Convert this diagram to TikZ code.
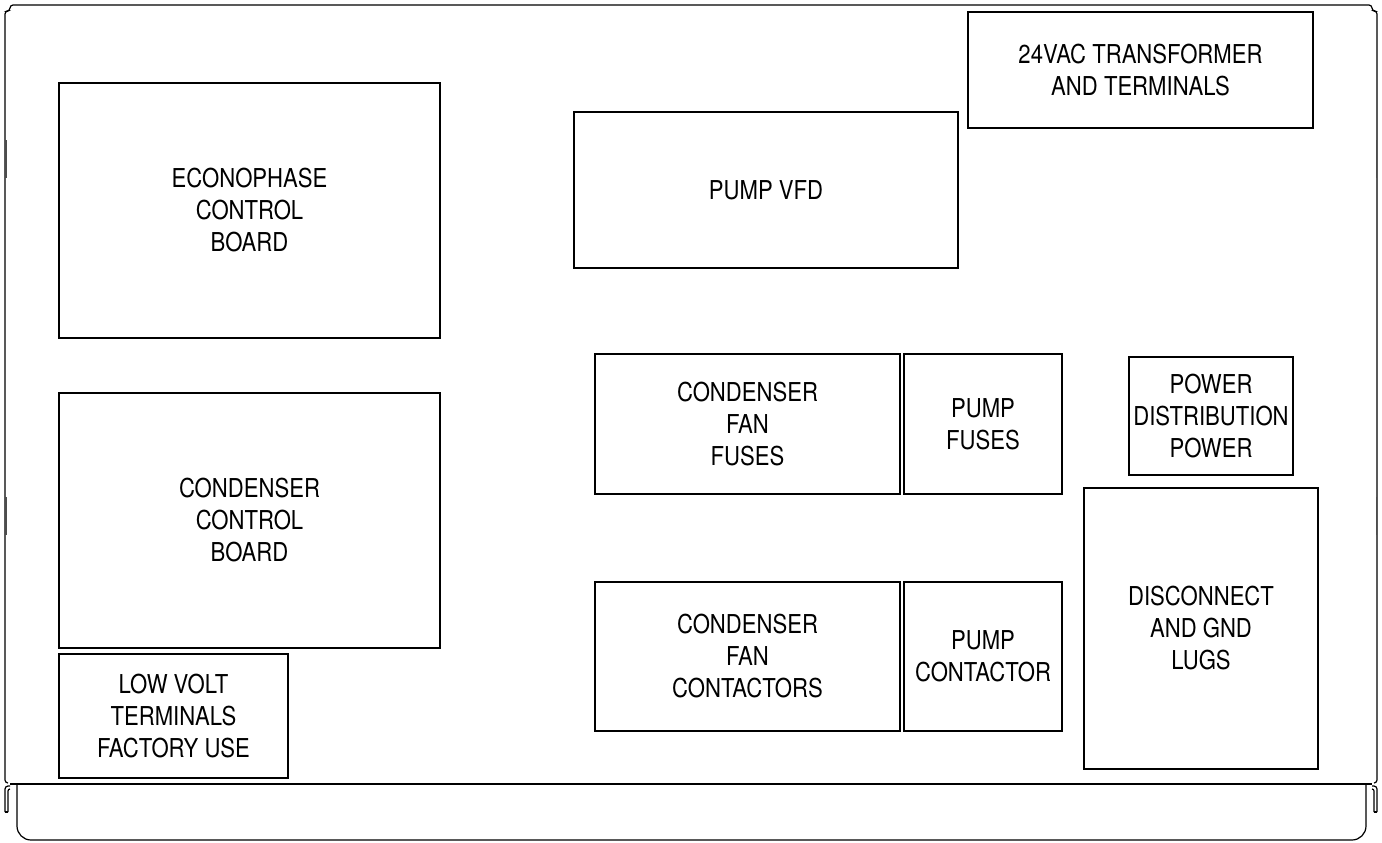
\documentclass[tikz,border=0pt]{standalone}
\usepackage{fontspec}
\setmainfont[FakeStretch=0.85]{TeX Gyre Heros}
\usepackage{tikz}
\tikzstyle{boxlabel} = [anchor=center, align=center, color=black, font=\fontsize{13}{16}\selectfont, inner sep=0pt]
\tikzstyle{panel} = [draw=black, line width=1pt]
\tikzstyle{frame} = [draw=black, line width=0.6pt]

\begin{document}
\begin{tikzpicture}[x=0.5pt, y=-0.5pt]
  \useasboundingbox (0,0) rectangle (1382,842);

  % cabinet outline
  \draw[frame, rounded corners=1.5pt] (8,783) -- (5,783) -- (5,11) -- (10,11) -- (10,5) -- (1372,5) -- (1372,11)
    -- (1377,11) -- (1377,783) -- (1374,783);
  \fill[black!70] (5,140) rectangle (6.5,178);
  \fill[black!70] (5,497) rectangle (6.5,535);
  \fill[black!70] (1375.5,140) rectangle (1377,178);
  \fill[black!70] (1375.5,497) rectangle (1377,535);
  \draw[frame, line width=1pt] (10,784) -- (1372,784);
  % side tabs
  \draw[frame, rounded corners=1.5pt] (5,812) -- (5,786) -- (10,786);
  \draw[frame, rounded corners=1pt] (8,812) -- (8,789) -- (10,789);
  \draw[frame] (5,812) -- (8,812);
  \draw[frame, rounded corners=1.5pt] (1377,812) -- (1377,786) -- (1372,786);
  \draw[frame, rounded corners=1pt] (1374,812) -- (1374,789) -- (1372,789);
  \draw[frame] (1374,812) -- (1377,812);
  % bottom strip
  \draw[frame, rounded corners=7pt] (17,785) -- (17,840) -- (1366,840) -- (1366,785);

  % control boards
  \draw[panel] (59,83) rectangle (440,338);
  \node[boxlabel] (econ) at (249.5,210.5) {ECONOPHASE\\CONTROL\\BOARD};
  \draw[panel] (59,393) rectangle (440,648);
  \node[boxlabel] (condctrl) at (249.5,520.5) {CONDENSER\\CONTROL\\BOARD};
  \draw[panel] (59,654) rectangle (288,778);
  \node[boxlabel] (lowvolt) at (173.5,716) {LOW VOLT\\TERMINALS\\FACTORY USE};

  % drives and transformer
  \draw[panel] (574,112) rectangle (958,268);
  \node[boxlabel] (vfd) at (766,190) {PUMP VFD};
  \draw[panel] (968,12) rectangle (1313,128);
  \node[boxlabel] (xfmr) at (1140.5,70) {24VAC TRANSFORMER\\AND TERMINALS};

  % fuses
  \draw[panel] (595,354) rectangle (900,494);
  \node[boxlabel] (fanfuse) at (747.5,424) {CONDENSER\\FAN\\FUSES};
  \draw[panel] (904,354) rectangle (1062,494);
  \node[boxlabel] (pumpfuse) at (983,424) {PUMP\\FUSES};
  \draw[panel] (1129,357) rectangle (1293,475);
  \node[boxlabel] (pwrdist) at (1211,416) {POWER\\DISTRIBUTION\\POWER};

  % contactors
  \draw[panel] (595,582) rectangle (900,731);
  \node[boxlabel] (fancont) at (747.5,656.5) {CONDENSER\\FAN\\CONTACTORS};
  \draw[panel] (904,582) rectangle (1062,731);
  \node[boxlabel] (pumpcont) at (983,656.5) {PUMP\\CONTACTOR};
  \draw[panel] (1084,488) rectangle (1318,769);
  \node[boxlabel] (disc) at (1201,628.5) {DISCONNECT\\AND GND\\LUGS};

\end{tikzpicture}
\end{document}
